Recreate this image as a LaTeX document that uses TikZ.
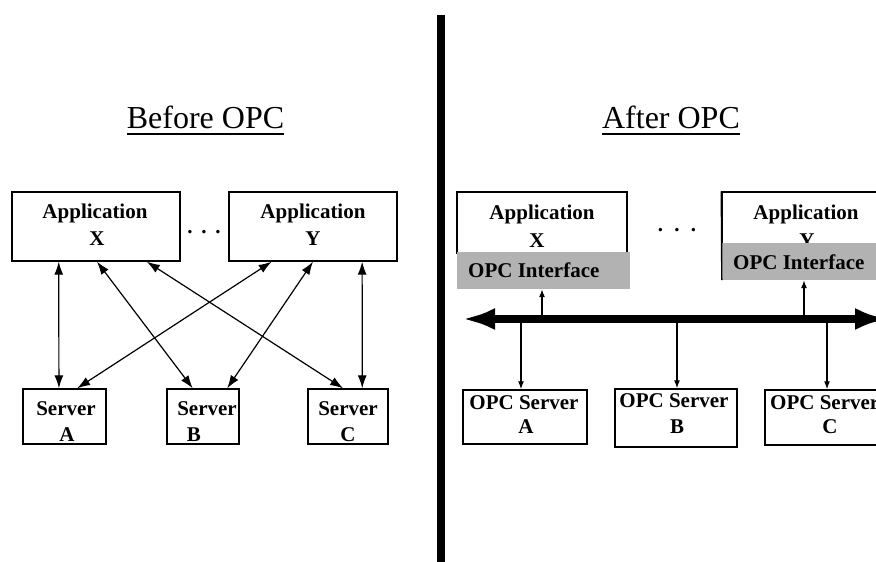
\documentclass[tikz,border=0pt]{standalone}
\usepackage{fontspec}
\setmainfont{Liberation Serif}
\usetikzlibrary{arrows.meta,calc}
\begin{document}
\begin{tikzpicture}[x=1pt,y=-1pt,
  box/.style={draw, line width=1.4pt, inner sep=0pt, fill=white},
  lbl/.style={inner sep=0pt, anchor=base, font=\fontsize{21}{25}\selectfont\bfseries},
  ttl/.style={inner sep=0pt, anchor=base, font=\fontsize{32}{38}\selectfont},
  larr/.style={line width=1.2pt, {Latex[length=13pt,width=9pt]}-{Latex[length=13pt,width=9pt]}},
  rarr/.style={line width=1.2pt, -{Latex[length=8pt,width=6pt]}},
  greybox/.style={fill=black!30, inner sep=0pt},
  heavy/.style={line width=8pt},
]
\clip (0,0) rectangle (876,562);
\useasboundingbox (0,0) rectangle (876,562);
\fill[white] (0,0) rectangle (876,562);

% divider
\coordinate (divT) at (441,15);
\coordinate (divB) at (441,562);
\draw[heavy] (divT) -- (divB);

% titles
\node[ttl] (tBefore) at (205.5,128) {Before OPC};
\draw[line width=2pt] ($(tBefore.base west)+(0,6)$) -- ($(tBefore.base east)+(0,6)$);
\node[ttl] (tAfter) at (671,128) {After OPC};
\draw[line width=2pt] ($(tAfter.base west)+(0,6)$) -- ($(tAfter.base east)+(0,6)$);

% ---------- Before OPC ----------
\node[box, minimum width=168pt, minimum height=69pt] (appX) at (96,226.5) {};
\node[box, minimum width=168pt, minimum height=69pt] (appY) at (313,226.5) {};
\node[box, minimum width=83pt, minimum height=55pt] (srvA) at (64.5,416.5) {};
\node[box, minimum width=72pt, minimum height=55pt] (srvB) at (203,416.5) {};
\node[box, minimum width=80pt, minimum height=55pt] (srvC) at (348,416.5) {};

\node[lbl] (tX1) at (95,218) {Application};
\node[lbl] (tX2) at (97,245) {X};
\node[lbl] (tY1) at (313,218) {Application};
\node[lbl] (tY2) at (313,245) {Y};
\node[lbl] (tA1) at (66,415) {Server};
\node[lbl] (tA2) at (67,441) {A};
\node[lbl] (tB1) at (207,415) {Server};
\node[lbl] (tB2) at (194,441) {B};
\node[lbl] (tC1) at (348,415) {Server};
\node[lbl] (tC2) at (348,441) {C};
\node[lbl] (dotsL) at (204,233) {.\hspace{8.75pt}.\hspace{8.75pt}.};

\draw[larr] ($(appX.south west)!0.28!(appX.south east)$) -- ($(srvA.north west)!0.434!(srvA.north east)$);
\draw[larr] ($(appX.south west)!0.506!(appX.south east)$) -- ($(srvB.north west)!0.36!(srvB.north east)$);
\draw[larr] ($(appX.south west)!0.80!(appX.south east)$) -- ($(srvC.north west)!0.44!(srvC.north east)$);
\draw[larr] ($(appY.south west)!0.256!(appY.south east)$) -- ($(srvA.north west)!0.65!(srvA.north east)$);
\draw[larr] ($(appY.south west)!0.5!(appY.south east)$) -- ($(srvB.north west)!0.83!(srvB.north east)$);
\draw[larr] ($(appY.south west)!0.79!(appY.south east)$) -- ($(srvC.north west)!0.675!(srvC.north east)$);

% ---------- After OPC ----------
\node[box, minimum width=170pt, minimum height=61pt] (rappX) at (542,222.5) {};
\node[lbl] (rX1) at (542,219) {Application};
\node[lbl] (rX2) at (537,247) {X};
\node[greybox, minimum width=173pt, minimum height=37pt] (ifX) at (543.5,270.5) {};
\node[lbl, anchor=base west] (rIfX) at (468,277) {OPC Interface};

\node[box, minimum width=180pt, minimum height=52pt] (rappY) at (812,218) {};
\node[lbl] (rY1) at (806,219) {Application};
\node[lbl] (rY2) at (807,247) {Y};
\node[greybox, minimum width=180pt, minimum height=37pt] (ifY) at (812,261.5) {};
\node[lbl, anchor=base west] (rIfY) at (733,269) {OPC Interface};
\draw[line width=1.4pt] (rappY.north west) -- (ifY.south west);

\node[lbl] (dotsR) at (677,231) {.\hspace{11.25pt}.\hspace{11.25pt}.};

\node[box, minimum width=124pt, minimum height=54pt] (osA) at (525,417) {};
\node[box, minimum width=122pt, minimum height=58pt] (osB) at (676,418) {};
\node[box, minimum width=135pt, minimum height=55pt] (osC) at (832.5,417.5) {};
\node[lbl] (oA1) at (524,409) {OPC Server};
\node[lbl] (oA2) at (526,433) {A};
\node[lbl] (oB1) at (674,407) {OPC Server};
\node[lbl] (oB2) at (677,433) {B};
\node[lbl, anchor=base west] (oC1) at (770,409) {OPC Server};
\node[lbl] (oC2) at (830,433) {C};

% bus
\coordinate (busL) at (462,319);
\coordinate (busR) at (888,319);
\draw[heavy, {Latex[length=33pt,width=22pt]}-{Latex[length=33pt,width=22pt]}] (busL) -- (busR);

\coordinate (bXup) at (542,316);
\coordinate (bYup) at (804,316);
\coordinate (bA) at (521,322);
\coordinate (bB) at (677,322);
\coordinate (bC) at (827,322);
\draw[rarr] (bXup) -- (bXup |- ifX.south);
\draw[rarr] (bYup) -- (bYup |- ifY.south);
\draw[rarr] (bA) -- (bA |- osA.north);
\draw[rarr] (bB) -- (bB |- osB.north);
\draw[rarr] (bC) -- (bC |- osC.north);
\end{tikzpicture}
\end{document}
